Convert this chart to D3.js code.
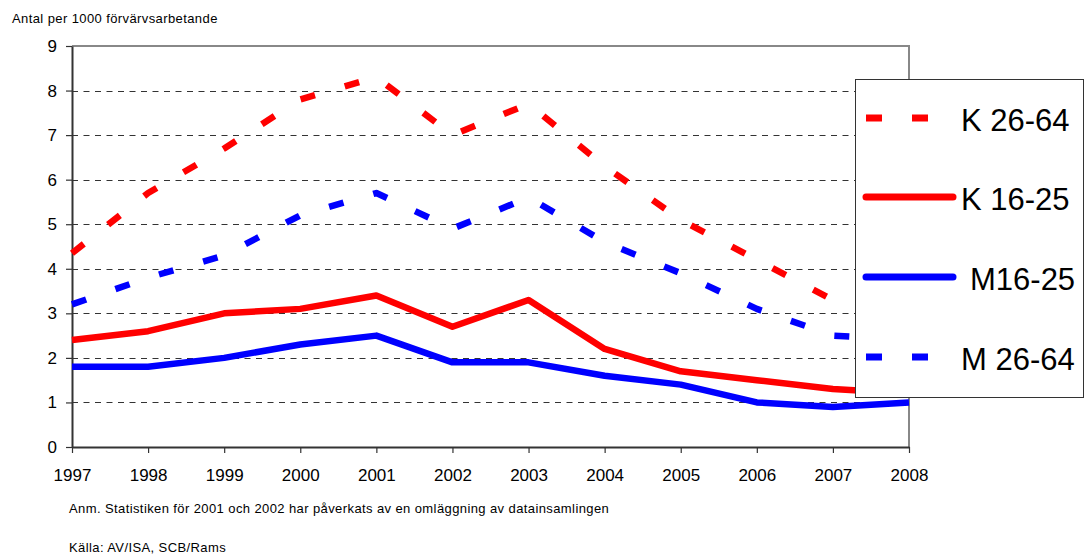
<!DOCTYPE html>
<html>
<head>
<meta charset="utf-8">
<script src="https://cdn.jsdelivr.net/npm/d3@7"></script>
<style>
body { margin: 0; background: #fff; }
svg { font-family: "Liberation Sans", Arial, sans-serif; }
</style>
</head>
<body>
<script>
// data
var years = [1997, 1998, 1999, 2000, 2001, 2002, 2003, 2004, 2005, 2006, 2007, 2008];
var k2664 = [4.35, 5.7, 6.7, 7.8, 8.3, 7.0, 7.7, 6.3, 5.1, 4.2, 3.3, 3.0];
var k1625 = [2.4, 2.6, 3.0, 3.1, 3.4, 2.7, 3.3, 2.2, 1.7, 1.5, 1.3, 1.2];
var m1625 = [1.8, 1.8, 2.0, 2.3, 2.5, 1.9, 1.9, 1.6, 1.4, 1.0, 0.9, 1.0];
var m2664 = [3.2, 3.8, 4.3, 5.2, 5.7, 4.9, 5.6, 4.6, 3.9, 3.1, 2.5, 2.4];
var yTicks = [0, 1, 2, 3, 4, 5, 6, 7, 8, 9];
var seriesNames = ["K 26-64", "K 16-25", "M16-25", "M 26-64"];

var series = [
	{name: seriesNames[0], values: k2664, color: "#ff0000", dashed: true},
	{name: seriesNames[1], values: k1625, color: "#ff0000", dashed: false},
	{name: seriesNames[2], values: m1625, color: "#0000ff", dashed: false},
	{name: seriesNames[3], values: m2664, color: "#0000ff", dashed: true}
];

var svg = d3.select("body").append("svg")
	.attr("width", 1085)
	.attr("height", 554);

var x = d3.scaleLinear().domain([1997, 2008]).range([72, 909]);
var y = d3.scaleLinear().domain([0, 9]).range([447, 46]);

// gridlines
svg.append("g").selectAll("line")
	.data(yTicks.filter(function(d){ return d > 0 && d < 9; }))
	.enter().append("line")
	.attr("x1", 72).attr("x2", 909)
	.attr("y1", function(d){ return Math.round(y(d)) + 0.5; })
	.attr("y2", function(d){ return Math.round(y(d)) + 0.5; })
	.attr("stroke", "#333")
	.attr("stroke-width", 1)
	.attr("stroke-dasharray", "6,5.5");

// top / right border of plot area
svg.append("path")
	.attr("d", "M72,46H909V447")
	.attr("fill", "none")
	.attr("stroke", "#888")
	.attr("stroke-width", 2);

// axes
var yAxis = svg.append("g")
	.attr("transform", "translate(72,0)")
	.call(d3.axisLeft(y).tickValues(yTicks).tickSizeInner(6).tickSizeOuter(0).tickPadding(9).tickFormat(d3.format("d")));
var xAxis = svg.append("g")
	.attr("transform", "translate(0,447)")
	.call(d3.axisBottom(x).tickValues(years).tickSizeInner(6).tickSizeOuter(0).tickPadding(16).tickFormat(d3.format("d")));

[yAxis, xAxis].forEach(function(a){
	a.select(".domain").attr("stroke", "#333").attr("stroke-width", 2);
	a.selectAll(".tick line").attr("stroke", "#333").attr("stroke-width", 1.2);
	a.selectAll("text").attr("fill", "#000").style("font-size", "17px")
		.style("font-family", "'Liberation Sans', Arial, sans-serif");
});

// series lines
var line = d3.line()
	.x(function(d, i){ return x(years[i]); })
	.y(function(d){ return y(d); });

svg.append("g").selectAll("path")
	.data(series)
	.enter().append("path")
	.attr("d", function(d){ return line(d.values); })
	.attr("fill", "none")
	.attr("stroke", function(d){ return d.color; })
	.attr("stroke-width", 6.5)
	.attr("stroke-linejoin", "round")
	.attr("stroke-dasharray", function(d){ return d.dashed ? "15,31" : null; });

// legend
var legend = svg.append("g");
legend.append("rect")
	.attr("x", 855.5).attr("y", 79.5)
	.attr("width", 228).attr("height", 318)
	.attr("fill", "#fff")
	.attr("stroke", "#333")
	.attr("stroke-width", 1);

var legendY = [118, 197, 277, 357];
var legendTextX = [961, 961, 970, 961];
var items = legend.selectAll("g.item")
	.data(series)
	.enter().append("g")
	.attr("class", "item");
items.append("line")
	.attr("x1", 866)
	.attr("x2", function(d){ return d.dashed ? 928 : 953; })
	.attr("y1", function(d, i){ return legendY[i]; })
	.attr("y2", function(d, i){ return legendY[i]; })
	.attr("stroke", function(d){ return d.color; })
	.attr("stroke-width", 7)
	.attr("stroke-linecap", function(d){ return d.dashed ? "butt" : "round"; })
	.attr("stroke-dasharray", function(d){ return d.dashed ? "16,30" : null; });
items.append("text")
	.attr("x", function(d, i){ return legendTextX[i]; })
	.attr("y", function(d, i){ return legendY[i] + 13; })
	.style("font-size", "31px")
	.attr("fill", "#000")
	.text(function(d){ return d.name; });

// texts
svg.append("text")
	.attr("x", 12).attr("y", 23)
	.style("font-size", "13px")
	.style("letter-spacing", "0.4px")
	.text("Antal per 1000 förvärvsarbetande");
svg.append("text")
	.attr("x", 69).attr("y", 513)
	.style("font-size", "13px")
	.style("letter-spacing", "0.4px")
	.text("Anm. Statistiken för 2001 och 2002 har påverkats av en omläggning av datainsamlingen");
svg.append("text")
	.attr("x", 69).attr("y", 552)
	.style("font-size", "13px")
	.style("letter-spacing", "0.4px")
	.text("Källa: AV/ISA, SCB/Rams");
</script>
</body>
</html>
